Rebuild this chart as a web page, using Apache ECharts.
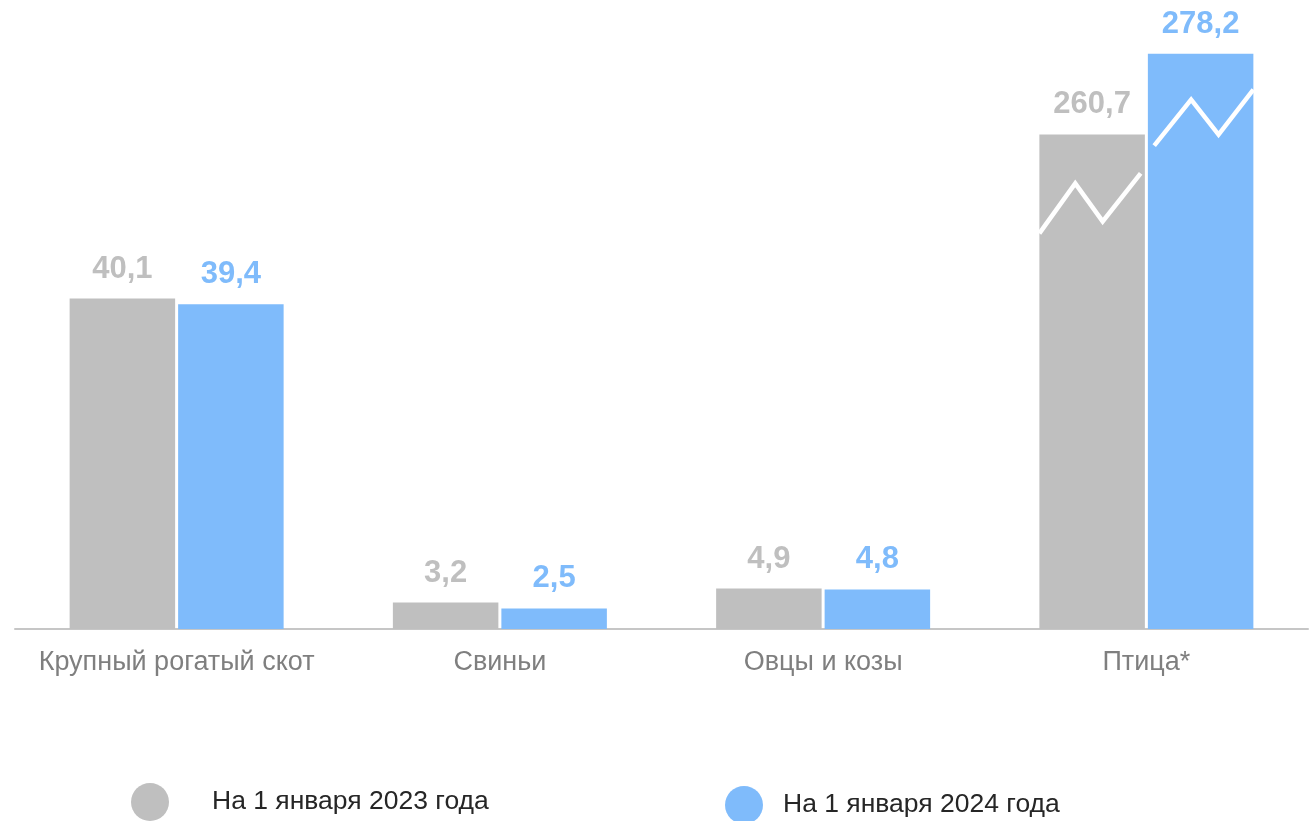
<!DOCTYPE html>
<html>
<head>
<meta charset="utf-8">
<script src="https://cdn.jsdelivr.net/npm/echarts@6.0.0/dist/echarts.min.js"></script>
<style>
html,body{margin:0;padding:0;background:#fff;}
#chart{width:1314px;height:821px;}
</style>
</head>
<body>
<div id="chart"></div>
<script>
// ---- data ----
const categories = ['Крупный рогатый скот', 'Свиньи', 'Овцы и козы', 'Птица*'];
const seriesNames = ['На 1 января 2023 года', 'На 1 января 2024 года'];
const values2023 = [40.1, 3.2, 4.9, 260.7];
const values2024 = [39.4, 2.5, 4.8, 278.2];
// heights drawn on the broken scale (the "Птица*" bars are shown compressed)
const heights2023 = [40.1, 3.2, 4.9, 60.0];
const heights2024 = [39.4, 2.5, 4.8, 69.8];
const brokenIndex = 3;

const GREY = '#bfbfbf';
const BLUE = '#7fbbfb';
const BAR_W = 105.5;
const BAR_GAP_PX = 3;
const FONT = '"Liberation Sans", Arial, sans-serif';

const fmt = v => v.toFixed(1).replace('.', ',');

const chart = echarts.init(document.getElementById('chart'));

function zigzag(offsetSign, xs, ys) {
  return function (params, api) {
    const top = api.coord([api.value(0), api.value(1)]);
    const cx = top[0] + offsetSign * (BAR_W + BAR_GAP_PX) / 2;
    const left = cx - BAR_W / 2;
    const pts = xs.map((f, i) => [left + f * BAR_W, top[1] + ys[i]]);
    return {
      type: 'polyline',
      shape: { points: pts },
      style: { stroke: '#ffffff', lineWidth: 4.5, fill: null, lineJoin: 'miter' },
      z2: 10
    };
  };
}

const labelCommon = {
  show: true,
  position: 'top',
  distance: 14,
  fontFamily: FONT,
  fontSize: 31,
  fontWeight: 'bold'
};

chart.setOption({
  animation: false,
  grid: { left: 15, right: 6, top: 52, bottom: 192, containLabel: false },
  xAxis: {
    type: 'category',
    data: categories,
    axisLine: { show: true, lineStyle: { color: '#c6c6c6', width: 2 } },
    axisTick: { show: false },
    axisLabel: {
      interval: 0,
      hideOverlap: false,
      margin: 20,
      color: '#7f7f7f',
      fontSize: 27,
      fontFamily: FONT
    }
  },
  yAxis: {
    type: 'value',
    min: 0,
    max: 70,
    show: false,
    splitLine: { show: false }
  },
  legend: [
    {
      data: [seriesNames[0]],
      left: 126, top: 778,
      icon: 'circle', itemWidth: 38, itemHeight: 38,
      textStyle: { color: '#262626', fontSize: 26.5, fontFamily: FONT, padding: [7, 0, 0, 38] }
    },
    {
      data: [seriesNames[1]],
      left: 720, top: 781,
      icon: 'circle', itemWidth: 38, itemHeight: 38,
      textStyle: { color: '#262626', fontSize: 26.5, fontFamily: FONT, padding: [7, 0, 0, 15] }
    }
  ],
  series: [
    {
      name: seriesNames[0],
      type: 'bar',
      data: heights2023,
      barWidth: BAR_W,
      barGap: (BAR_GAP_PX / BAR_W * 100).toFixed(2) + '%',
      itemStyle: { color: GREY },
      label: Object.assign({}, labelCommon, {
        color: GREY,
        formatter: p => fmt(values2023[p.dataIndex])
      })
    },
    {
      name: seriesNames[1],
      type: 'bar',
      data: heights2024,
      barWidth: BAR_W,
      itemStyle: { color: BLUE },
      label: Object.assign({}, labelCommon, {
        color: BLUE,
        formatter: p => fmt(values2024[p.dataIndex])
      })
    },
    {
      type: 'custom',
      name: 'break2023',
      data: [[brokenIndex, heights2023[brokenIndex]]],
      renderItem: zigzag(-1, [0, 0.34, 0.6, 0.96], [99, 49, 87, 39]),
      z: 5,
      silent: true,
      clip: false
    },
    {
      type: 'custom',
      name: 'break2024',
      data: [[brokenIndex, heights2024[brokenIndex]]],
      renderItem: zigzag(1, [0.06, 0.41, 0.67, 1.0], [92, 46, 81, 36]),
      z: 5,
      silent: true,
      clip: false
    }
  ]
});
</script>
</body>
</html>
